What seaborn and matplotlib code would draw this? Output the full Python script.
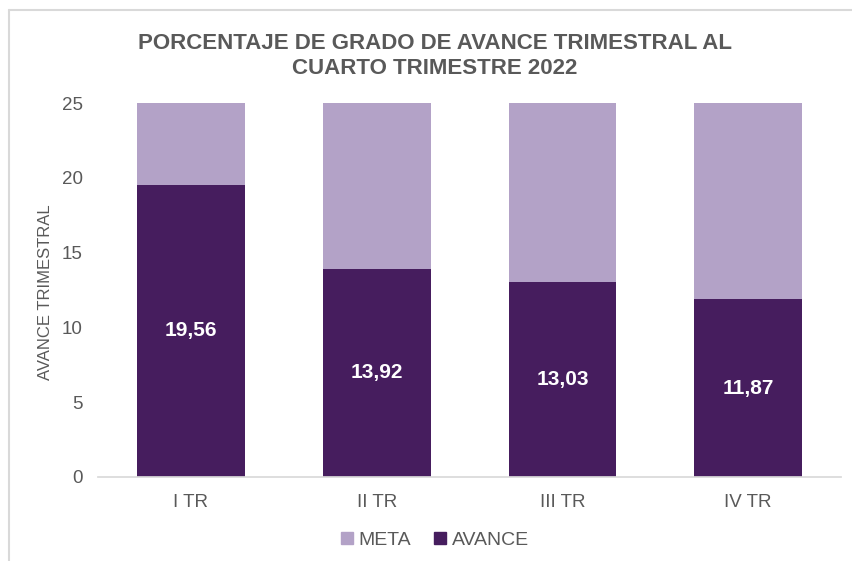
import matplotlib.pyplot as plt
import matplotlib.lines as mlines
import matplotlib.patches as mpatches
import pandas as pd
import seaborn as sns

# Datos del gráfico
trimestres = ['I TR', 'II TR', 'III TR', 'IV TR']
avance = [19.56, 13.92, 13.03, 11.87]
meta_total = [25, 25, 25, 25]

df = pd.DataFrame({'trimestre': trimestres, 'avance': avance, 'meta': meta_total})

sns.set_theme(style='white')
plt.rcParams['font.family'] = ['Liberation Sans', 'DejaVu Sans']

color_meta = '#B3A2C7'
color_avance = '#461D5E'
gris = '#595959'

fig = plt.figure(figsize=(8.53, 5.61), dpi=100)
ax = fig.add_axes([0.115, 0.150, 0.871, 0.666])

# barra completa (meta) y encima el avance
sns.barplot(ax=ax, data=df, x='trimestre', y='meta', color=color_meta,
            width=0.58, saturation=1, linewidth=0)
sns.barplot(ax=ax, data=df, x='trimestre', y='avance', color=color_avance,
            width=0.58, saturation=1, linewidth=0)

for i, v in enumerate(avance):
  ax.text(i, v / 2, f'{v:.2f}'.replace('.', ','), ha='center', va='center',
          color='white', fontsize=15, fontweight='bold')

ax.set_ylim(0, 25)
ax.set_xlim(-0.5, 3.5)
ax.set_yticks(range(0, 26, 5))
ax.tick_params(axis='both', colors=gris, labelsize=13.5, length=0)
ax.tick_params(axis='y', pad=11)
ax.tick_params(axis='x', pad=12)
for s in ['top', 'right', 'left']:
  ax.spines[s].set_visible(False)
ax.spines['bottom'].set_color('#D9D9D9')
ax.set_xlabel('')
ax.set_ylabel('AVANCE TRIMESTRAL', color=gris, fontsize=12)
ax.yaxis.set_label_coords(-0.061, 0.495)

fig.suptitle('PORCENTAJE DE GRADO DE AVANCE TRIMESTRAL AL\nCUARTO TRIMESTRE 2022',
             x=0.51, y=0.942, fontsize=16, fontweight='bold', color=gris,
             linespacing=1.3)

handles = [mpatches.Patch(color=color_meta, label='META'),
           mpatches.Patch(color=color_avance, label='AVANCE')]
fig.legend(handles=handles, loc='center', bbox_to_anchor=(0.51, 0.037), ncol=2,
           frameon=False, fontsize=14, labelcolor=gris, handlelength=0.6,
           handleheight=0.6, handletextpad=0.3, columnspacing=1.2)

# borde del área del gráfico
fig.add_artist(mlines.Line2D([8.5 / 853, 8.5 / 853], [0, 1 - 9.5 / 561],
                             transform=fig.transFigure, color='#D9D9D9', lw=1.5))
fig.add_artist(mlines.Line2D([8.5 / 853, 1], [1 - 9.5 / 561, 1 - 9.5 / 561],
                             transform=fig.transFigure, color='#D9D9D9', lw=1.5))

fig.savefig('out.png', dpi=100)
